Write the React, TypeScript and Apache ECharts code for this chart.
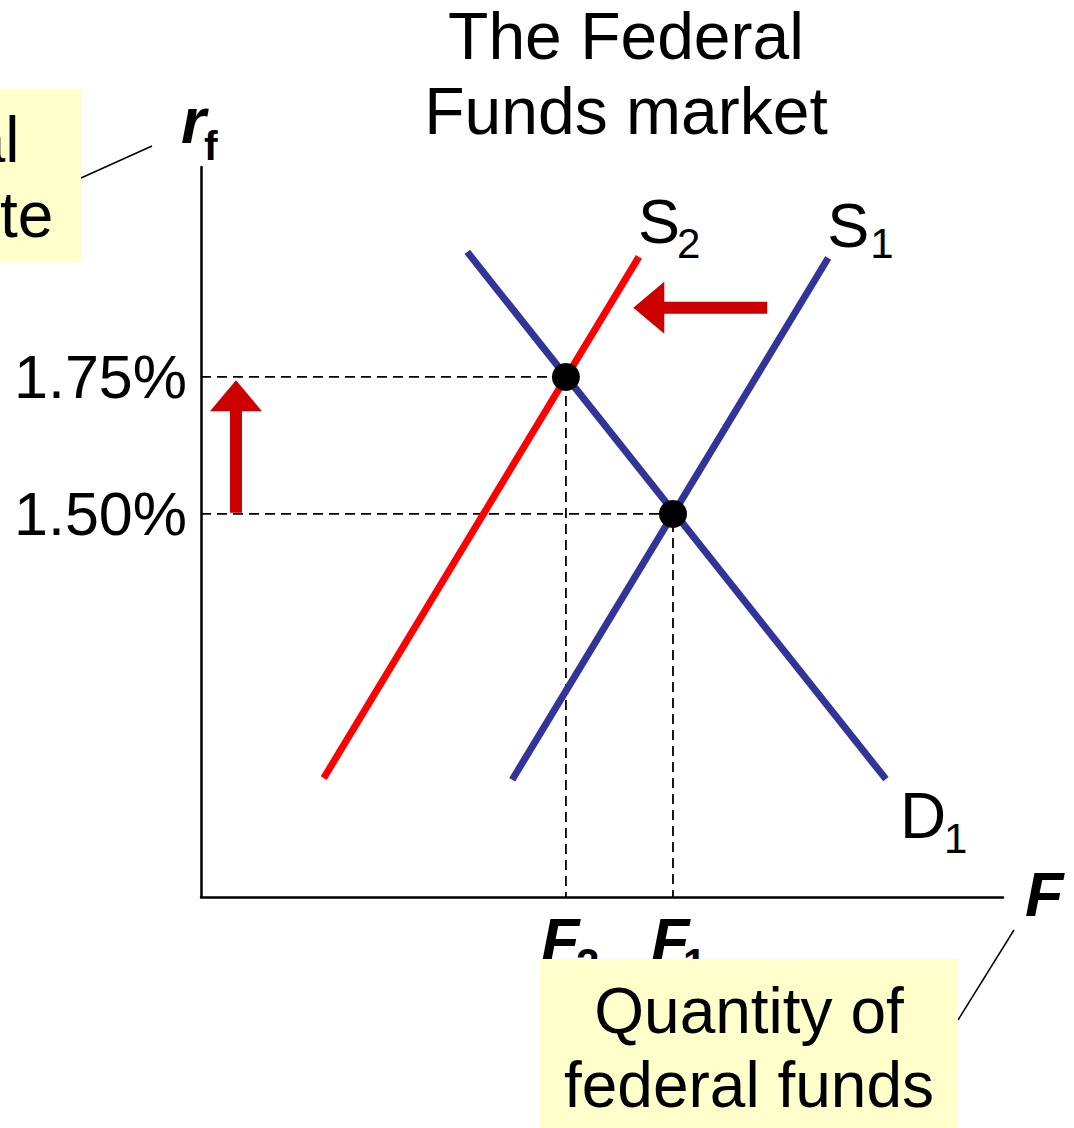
import React, { useEffect, useRef } from 'react';
import * as echarts from 'echarts';

const FONT = '"Liberation Sans", Arial, Helvetica, sans-serif';

// axes (quantity in arbitrary units, rate in %)
const quantityRange = [0, 100];
const rateRange = [0.801, 2.133];
const rateTicks = [1.5, 1.75];
const rateTickLabels = ['1.50%', '1.75%'];

// curves
const demandD1 = [[33.2, 1.978], [85.4, 1.016]];
const supplyS1 = [[38.8, 1.015], [78.2, 1.967]];
const supplyS2 = [[15.3, 1.018], [54.6, 1.969]];

// equilibria: [F, rate]
const equilibriumF1 = [58.85, 1.5];
const equilibriumF2 = [45.5, 1.75];
const quantityLabels = ['F', 'F'];
const quantitySubs = ['1', '2'];

// shift arrows: [x1, y1, x2, y2]
const arrows = [
  [4.36, 1.502, 4.36, 1.744],
  [70.6, 1.876, 53.9, 1.876],
];

function guide(p: number[]) {
  return [[quantityRange[0], p[1]], [p[0], p[1]], [p[0], rateRange[0]]];
}

function txt(text: string, x: number, y: number, size: number, opts: any = {}) {
  const align = opts.align || 'left';
  return {
    type: 'text',
    x,
    y,
    z: opts.z ?? 50,
    silent: true,
    style: {
      text,
      fill: '#000',
      fontSize: size,
      fontFamily: FONT,
      fontWeight: opts.bold ? 'bold' : 'normal',
      fontStyle: opts.italic ? 'italic' : 'normal',
      align,
      textAlign: align,
      verticalAlign: 'middle',
      textVerticalAlign: 'middle',
    },
  };
}

export default function App() {
  const ref = useRef<HTMLDivElement>(null);

  useEffect(() => {
    document.body.style.margin = '0';
    const chart = echarts.init(ref.current!, null, { renderer: 'svg' });
    chart.setOption({
      animation: false,
      backgroundColor: '#ffffff',
      grid: { left: 201, right: 71, top: 167, bottom: 231, outerBoundsMode: 'none' },
      xAxis: {
        type: 'value',
        min: quantityRange[0],
        max: quantityRange[1],
        axisLine: { show: true, lineStyle: { color: '#000', width: 2.5 } },
        axisTick: { show: false },
        axisLabel: { show: false },
        splitLine: { show: false },
      },
      yAxis: {
        type: 'value',
        min: rateRange[0],
        max: rateRange[1],
        axisLine: { show: true, lineStyle: { color: '#000', width: 2.5 } },
        axisTick: { show: false },
        splitLine: { show: false },
        axisLabel: {
          customValues: rateTicks,
          formatter: (v: number) => {
            const i = rateTicks.findIndex((t) => Math.abs(t - v) < 1e-6);
            return i >= 0 ? rateTickLabels[i] : '';
          },
          color: '#000',
          fontSize: 61,
          fontFamily: FONT,
          margin: 14,
          padding: [4, 0, 0, 0],
        },
      },
      series: [
        {
          type: 'line',
          data: guide(equilibriumF1),
          showSymbol: false,
          silent: true,
          z: 1,
          lineStyle: { color: '#000', width: 1.8, type: [10, 6] },
        },
        {
          type: 'line',
          data: guide(equilibriumF2),
          showSymbol: false,
          silent: true,
          z: 1,
          lineStyle: { color: '#000', width: 1.8, type: [10, 6] },
        },
        {
          type: 'line',
          data: supplyS2,
          showSymbol: false,
          silent: true,
          z: 2,
          lineStyle: { color: '#ff0000', width: 7 },
        },
        {
          type: 'line',
          data: supplyS1,
          showSymbol: false,
          silent: true,
          z: 2,
          lineStyle: { color: '#333399', width: 7 },
        },
        {
          type: 'line',
          data: demandD1,
          showSymbol: false,
          silent: true,
          z: 2,
          lineStyle: { color: '#333399', width: 7 },
        },
        {
          type: 'scatter',
          data: [equilibriumF1, equilibriumF2],
          symbolSize: 28,
          silent: true,
          z: 3,
          itemStyle: { color: '#000', opacity: 1 },
        },
        {
          type: 'custom',
          data: arrows,
          silent: true,
          z: 4,
          encode: { x: [0, 2], y: [1, 3] },
          renderItem: (params: any, api: any) => {
            const p1 = api.coord([api.value(0), api.value(1)]);
            const p2 = api.coord([api.value(2), api.value(3)]);
            const dx = p2[0] - p1[0];
            const dy = p2[1] - p1[1];
            const len = Math.hypot(dx, dy) || 1;
            const ux = dx / len, uy = dy / len;
            const nx = -uy, ny = ux;
            const hl = 31, hw = 26, sw = 6;
            const bx = p2[0] - ux * hl, by = p2[1] - uy * hl;
            const points = [
              [p1[0] + nx * sw, p1[1] + ny * sw],
              [bx + nx * sw, by + ny * sw],
              [bx + nx * hw, by + ny * hw],
              [p2[0], p2[1]],
              [bx - nx * hw, by - ny * hw],
              [bx - nx * sw, by - ny * sw],
              [p1[0] - nx * sw, p1[1] - ny * sw],
            ];
            return { type: 'polygon', shape: { points }, style: { fill: '#cc0000' } };
          },
        },
      ],
    });

    const px = (p: number[]) => chart.convertToPixel({ gridIndex: 0 }, p) as number[];
    const s2Top = px(supplyS2[1]);
    const s1Top = px(supplyS1[1]);
    const d1End = px(demandD1[1]);
    const f1 = px(equilibriumF1);
    const f2 = px(equilibriumF2);
    const origin = px([quantityRange[0], rateRange[0]]);
    const yTop = px([quantityRange[0], rateRange[1]]);
    const xEnd = px([quantityRange[1], rateRange[0]]);

    const graphic: any[] = [
      // title
      txt('The Federal', 626, 36, 66, { align: 'center' }),
      txt('Funds market', 626, 111, 66, { align: 'center' }),
      // curve labels
      txt('S', s2Top[0] - 1, s2Top[1] - 36, 63),
      txt('2', s2Top[0] + 38, s2Top[1] - 13, 42),
      txt('S', s1Top[0] - 1, s1Top[1] - 33, 63),
      txt('1', s1Top[0] + 42, s1Top[1] - 14, 42),
      txt('D', d1End[0] + 14, d1End[1] + 37, 64),
      txt('1', d1End[0] + 58, d1End[1] + 59, 42),
      // quantity labels
      txt(quantityLabels[0], f1[0] - 22, origin[1] + 43, 63, { bold: true, italic: true }),
      txt(quantitySubs[0], f1[0] + 10, origin[1] + 66, 42, { bold: true }),
      txt(quantityLabels[1], f2[0] - 25, origin[1] + 43, 63, { bold: true, italic: true }),
      txt(quantitySubs[1], f2[0] + 10, origin[1] + 66, 42, { bold: true }),
      // axis names
      txt('F', xEnd[0] + 22, origin[1] - 3, 63, { bold: true, italic: true }),
      txt('r', yTop[0] - 20, 121, 64, { bold: true, italic: true }),
      txt('f', yTop[0] + 3, 146, 41, { bold: true }),
      // callout lines
      { type: 'line', z: 60, silent: true, shape: { x1: 81, y1: 178, x2: 152, y2: 146 }, style: { stroke: '#000', lineWidth: 1.5 } },
      { type: 'line', z: 60, silent: true, shape: { x1: 958, y1: 1020, x2: 1014, y2: 930 }, style: { stroke: '#000', lineWidth: 1.5 } },
      // callout boxes
      { type: 'rect', z: 100, silent: true, shape: { x: -300, y: 89, width: 381, height: 173 }, style: { fill: '#ffffcc' } },
      txt('Federal', -89, 140, 64, { align: 'center', z: 101 }),
      txt('funds rate', -89, 215, 64, { align: 'center', z: 101 }),
      { type: 'rect', z: 100, silent: true, shape: { x: 540, y: 959, width: 418, height: 200 }, style: { fill: '#ffffcc' } },
      txt('Quantity of', 749, 1011, 64, { align: 'center', z: 101 }),
      txt('federal funds', 749, 1085, 64, { align: 'center', z: 101 }),
    ];
    chart.setOption({ graphic });

    return () => chart.dispose();
  }, []);

  return <div ref={ref} style={{ width: 1074, height: 1128 }} />;
}
